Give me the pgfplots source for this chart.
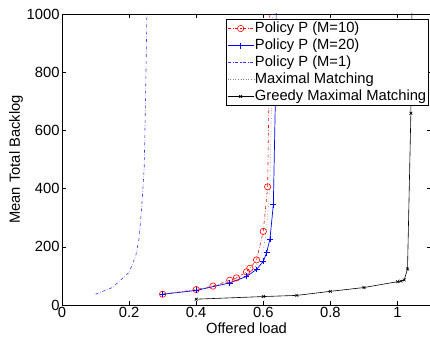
\documentclass[border=0pt]{standalone}
\usepackage{pgfplots}
\pgfplotsset{compat=1.18}
\usepackage{fontspec}
\setmainfont{Liberation Sans}
\usetikzlibrary{calc}
\newcommand{\ff}{\fontsize{14.8}{16}\selectfont}
\begin{document}
\begin{tikzpicture}[font=\ff]
\begin{axis}[
  scale only axis,
  width=369bp, height=291bp,
  xmin=0, xmax=1.1, ymin=0, ymax=1000,
  xtick={0,0.2,0.4,0.6,0.8,1},
  ytick={0,200,400,600,800,1000},
  tick align=inside,
  major tick length=4bp,
  tick style={black, line width=0.5pt},
  axis line style={line width=0.8pt},
  /pgf/number format/assume math mode=true,
  /pgf/number format/1000 sep={},
  tick label style={font=\ff},
  label style={font=\ff},
  xticklabel style={yshift=1bp},
  yticklabel style={xshift=1bp},
  xlabel={Offered load},
  ylabel={Mean Total Backlog},
  xlabel style={yshift=2bp},
  ylabel style={yshift=-3bp},
  clip=true,
  legend style={at={(rel axis cs:1,1)}, anchor=north east, xshift=-2bp, yshift=-5bp,
    font=\ff, draw=black, line width=0.6pt,
    inner sep=1.5pt, row sep=1.5pt, cells={anchor=west},
    nodes={inner sep=1pt, text height=10.5bp, text depth=3bp}},
  legend cell align=left,
  legend image code/.code={\draw[mark repeat=2,mark phase=2] plot coordinates {(0bp,0bp) (13bp,0bp) (26bp,0bp)};},
  legend image post style={line width=0.6pt},
]
\addplot[red, dash dot, line width=0.6pt, mark=o, mark size=3.2pt, mark options={solid}] coordinates {
(0.3,37) (0.4,53) (0.45,65) (0.5,85) (0.52,93) (0.55,114) (0.56,126) (0.58,155) (0.6,253) (0.613,406) (0.618,800) (0.621,1200)
};
\addlegendentry{Policy P (M=10)}
\addplot[blue, solid, line width=0.7pt, mark=+, mark size=3pt] coordinates {
(0.3,37) (0.4,50) (0.5,76) (0.55,98) (0.58,122) (0.6,150) (0.61,180) (0.62,227) (0.63,345) (0.636,700) (0.64,1200)
};
\addlegendentry{Policy P (M=20)}
\addplot[blue!80, dash dot, line width=0.6pt] coordinates {
(0.1,37) (0.15,60) (0.2,112) (0.22,170) (0.23,230) (0.238,343) (0.245,470) (0.249,700) (0.253,1000) (0.255,1200)
};
\addlegendentry{Policy P (M=1)}
\addplot[gray, dotted, line width=0.6pt] coordinates {
(0.3,37) (0.4,51) (0.5,80) (0.55,105) (0.58,135) (0.6,190) (0.61,260) (0.62,420) (0.625,700) (0.628,1000) (0.63,1200)
};
\addlegendentry{Maximal Matching}
\addplot[black, solid, line width=0.6pt, mark=x, mark size=2pt] coordinates {
(0.4,20) (0.6,29) (0.7,33) (0.8,47) (0.9,60) (1.0,80) (1.01,82) (1.02,86) (1.03,124) (1.04,659) (1.045,1200)
};
\addlegendentry{Greedy Maximal Matching}
\end{axis}
\pgfresetboundingbox
\path[use as bounding box] ($(current axis.south west)+(-62bp,-39bp)$) rectangle ($(current axis.north east)+(-1bp,14bp)$);
\end{tikzpicture}
\end{document}
